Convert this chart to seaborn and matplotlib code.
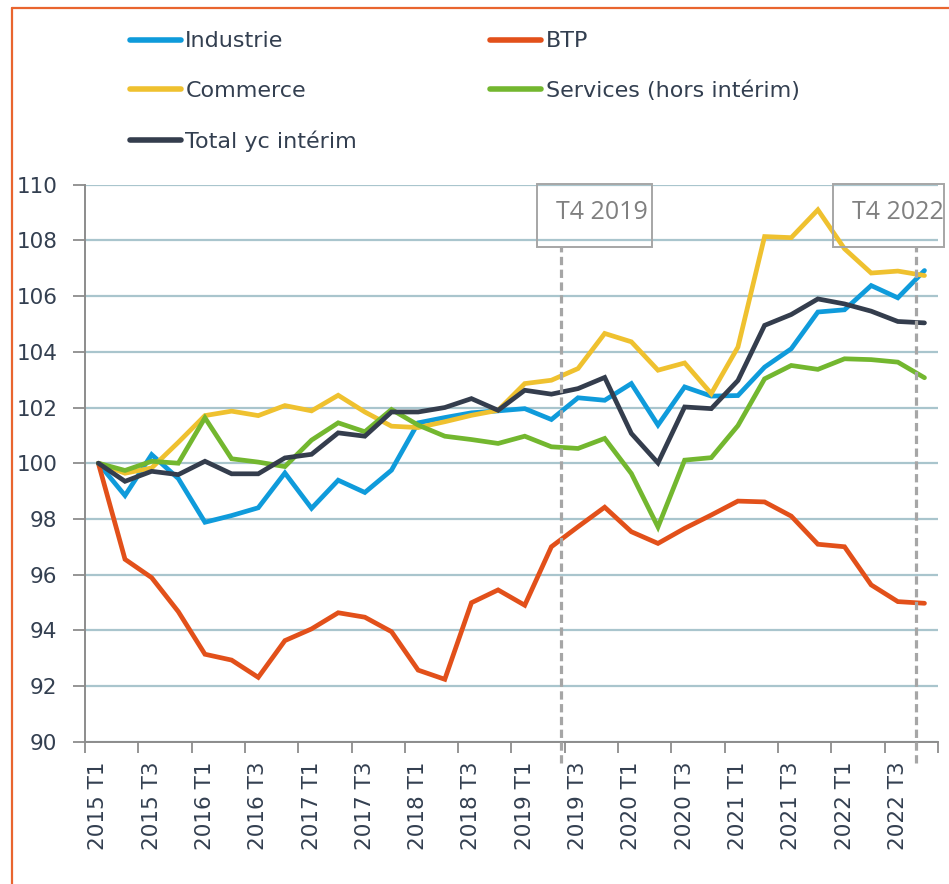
import numpy as np
import pandas as pd
import matplotlib
matplotlib.use('Agg')
import matplotlib.pyplot as plt
from matplotlib.lines import Line2D
from matplotlib.patches import Rectangle
import seaborn as sns

# ---------------------------------------------------------------
# data (index base 100 = 2015 T1)
# ---------------------------------------------------------------
quarters = [f'{y} T{q}' for y in range(2015, 2023) for q in range(1, 5)]

industrie = [100.0, 98.84, 100.31, 99.45, 97.88, 98.12, 98.40, 99.65,
             98.38, 99.39, 98.95, 99.75, 101.45, 101.64, 101.81, 101.88,
             101.96, 101.57, 102.35, 102.26, 102.86, 101.37, 102.74, 102.41,
             102.43, 103.45, 104.11, 105.43, 105.51, 106.38, 105.94, 106.92]

btp = [100.0, 96.55, 95.89, 94.67, 93.14, 92.93, 92.31, 93.63,
       94.05, 94.63, 94.47, 93.95, 92.57, 92.24, 94.99, 95.45,
       94.90, 97.00, 97.72, 98.42, 97.54, 97.12, 97.66, 98.14,
       98.64, 98.61, 98.10, 97.09, 97.00, 95.63, 95.03, 94.97]

commerce = [100.0, 99.64, 99.83, 100.75, 101.71, 101.87, 101.71, 102.07,
            101.88, 102.44, 101.84, 101.33, 101.28, 101.49, 101.72, 101.90,
            102.86, 102.98, 103.40, 104.66, 104.36, 103.34, 103.60, 102.50,
            104.17, 108.14, 108.10, 109.10, 107.70, 106.83, 106.90, 106.74]

services = [100.0, 99.74, 100.07, 100.0, 101.63, 100.16, 100.04, 99.88,
            100.83, 101.45, 101.13, 101.93, 101.37, 100.97, 100.85, 100.71,
            100.97, 100.59, 100.53, 100.89, 99.63, 97.71, 100.11, 100.20,
            101.35, 103.03, 103.51, 103.37, 103.75, 103.72, 103.63, 103.07]

total = [100.0, 99.35, 99.71, 99.59, 100.07, 99.62, 99.62, 100.19,
         100.32, 101.09, 100.97, 101.84, 101.84, 102.00, 102.32, 101.90,
         102.62, 102.48, 102.68, 103.08, 101.07, 100.01, 102.02, 101.96,
         102.97, 104.95, 105.34, 105.90, 105.72, 105.46, 105.09, 105.04]

series_names = ['Industrie', 'BTP', 'Commerce', 'Services (hors intérim)', 'Total yc intérim']
series_values = [industrie, btp, commerce, services, total]
colors = ['#0F9BDB', '#E2501A', '#EFC12F', '#73B72F', '#343D4D']

# markers placed on the time axis (fractional category positions)
markers = [('T4 2019', 17.36, 16.46, 20.78), ('T4 2022', 30.68, 27.57, 31.73)]

# ---------------------------------------------------------------
# long table for seaborn
# ---------------------------------------------------------------
rows = []
for name, vals in zip(series_names, series_values):
    for i, (q, v) in enumerate(zip(quarters, vals)):
        rows.append({'pos': i, 'Trimestre': q, 'Secteur': name, 'Indice': v})
df = pd.DataFrame(rows)

sns.set_style('white')
plt.rcParams['font.family'] = ['DejaVu Sans']

TXT = '#333F50'
AXC = '#8C8C8C'
GRID = '#A9C5CD'
DASH = '#A6A6A6'

fig = plt.figure(figsize=(9.49, 8.84), dpi=100)
ax = fig.add_axes([0.0896, 0.161, 0.8986, 0.630])

ax.set_axisbelow(True)
ax.yaxis.grid(True, color=GRID, linewidth=1.6)
ax.xaxis.grid(False)

sns.lineplot(data=df, x='pos', y='Indice', hue='Secteur', hue_order=series_names,
             palette=dict(zip(series_names, colors)), linewidth=3.4, sort=False,
             legend=False, ax=ax, solid_capstyle='round', solid_joinstyle='miter')

ax.set_xlim(-0.5, len(quarters) - 0.5)
ax.set_ylim(90, 110)
ax.set_yticks(np.arange(90, 111, 2))
ax.set_xticks(np.arange(0, len(quarters), 2))
ax.set_xticklabels(quarters[::2], rotation=90)
ax.set_xticks(np.arange(-0.5, len(quarters), 2), minor=True)
ax.set_xlabel('')
ax.set_ylabel('')

ax.tick_params(axis='y', which='major', length=9, width=1.3, color=AXC,
               labelsize=15.5, labelcolor=TXT, pad=11, left=True)
ax.tick_params(axis='x', which='major', length=0, labelsize=15.5, labelcolor=TXT, pad=14)
ax.tick_params(axis='x', which='minor', length=8, width=1.3, color=AXC, bottom=True)

for s in ['top', 'right']:
    ax.spines[s].set_visible(False)
for s in ['left', 'bottom']:
    ax.spines[s].set_color(AXC)
    ax.spines[s].set_linewidth(1.4)

# dashed reference lines with their labelled boxes
for label, xline, x0, x1 in markers:
    ax.plot([xline, xline], [89.24, 107.76], color=DASH, linewidth=2.3,
            linestyle=(0, (2.6, 1.4)), clip_on=False, zorder=5)
    ax.add_patch(Rectangle((x0, 107.76), x1 - x0, 2.26, fill=False,
                           edgecolor=DASH, linewidth=1.4, clip_on=False, zorder=6))
    ax.text(x0 + 0.7, 109.0, label, fontsize=18, color='#808080', family='Open Sans',
            ha='left', va='center', clip_on=False, zorder=7)

# legend (2 columns, filled column-wise)
order = [0, 2, 4, 1, 3]
handles = [Line2D([0], [0], color=colors[i], linewidth=4, solid_capstyle='round') for i in order]
labels = [series_names[i] for i in order]
fig.legend(handles, labels, loc='upper left', bbox_to_anchor=(0.125, 0.977), ncol=2,
           frameon=False, fontsize=16, handlelength=2.3, handletextpad=0.2,
           columnspacing=6.0, labelspacing=1.32, borderpad=0, labelcolor=TXT)

# orange frame (left and top edges)
frame_c = '#E9652F'
fig.add_artist(Line2D([0.0127, 0.0127], [0.0, 0.991], color=frame_c, linewidth=1.6,
                      transform=fig.transFigure))
fig.add_artist(Line2D([0.0127, 1.0], [0.991, 0.991], color=frame_c, linewidth=1.6,
                      transform=fig.transFigure))

plt.savefig('out.png', dpi=100)
plt.close()
